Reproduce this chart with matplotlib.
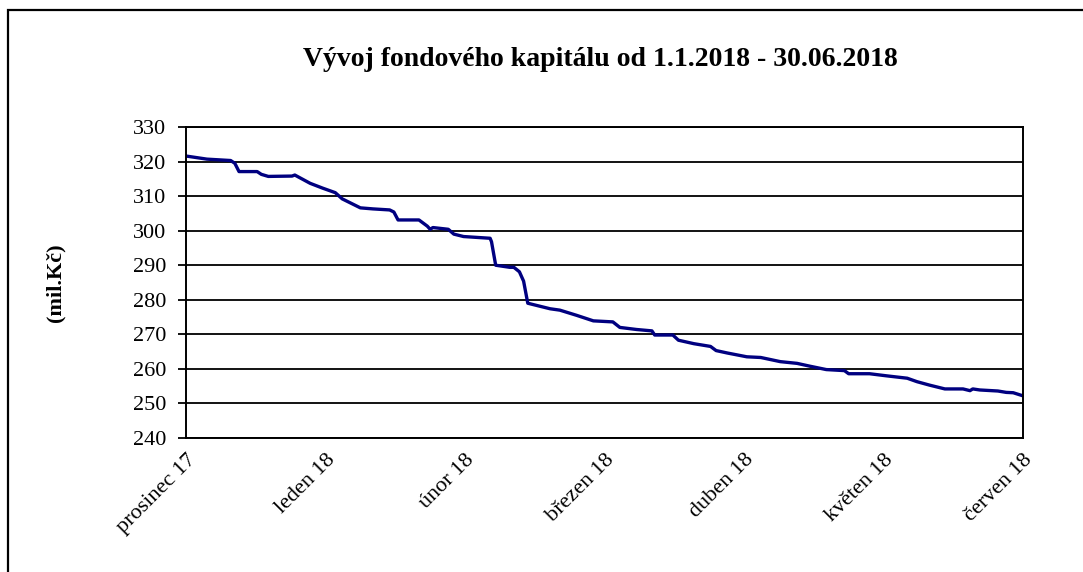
import matplotlib
matplotlib.use("Agg")
import matplotlib.pyplot as plt
from matplotlib.patches import Rectangle

plt.rcParams['font.family'] = ['Liberation Serif', 'DejaVu Serif']

# --- Data (x = position in months from "prosinec 17") ---
month_labels = ["prosinec 17", "leden 18", "únor 18", "březen 18",
                "duben 18", "květen 18", "červen 18"]

x_pos = [0.00, 0.15, 0.32, 0.35, 0.38, 0.51, 0.54, 0.59, 0.76, 0.78,
         0.89, 0.98, 1.07, 1.12, 1.19, 1.25, 1.34, 1.46, 1.49, 1.52,
         1.67, 1.73, 1.75, 1.77, 1.88, 1.92, 1.99, 2.18, 2.19, 2.22,
         2.32, 2.35, 2.39, 2.42, 2.45, 2.54, 2.61, 2.68, 2.80, 2.92,
         3.06, 3.11, 3.23, 3.34, 3.36, 3.49, 3.53, 3.64, 3.76, 3.80,
         3.88, 4.02, 4.12, 4.26, 4.38, 4.47, 4.59, 4.72, 4.75, 4.90,
         5.02, 5.17, 5.24, 5.33, 5.44, 5.57, 5.62, 5.64, 5.69, 5.82,
         5.88, 5.93, 6.00]

capital = [321.6, 320.7, 320.3, 319.5, 317.1, 317.1, 316.3, 315.7, 315.8, 316.1,
           313.7, 312.3, 311.0, 309.2, 307.8, 306.6, 306.3, 306.0, 305.4, 303.1,
           303.1, 301.3, 300.4, 300.9, 300.4, 299.0, 298.3, 297.8, 296.8, 290.0,
           289.4, 289.4, 288.1, 285.4, 279.0, 278.1, 277.4, 277.0, 275.5, 273.9,
           273.6, 272.0, 271.4, 271.0, 269.8, 269.8, 268.3, 267.3, 266.5, 265.3,
           264.6, 263.5, 263.3, 262.1, 261.6, 260.8, 259.8, 259.5, 258.6, 258.6,
           258.0, 257.3, 256.3, 255.3, 254.2, 254.2, 253.7, 254.2, 253.9, 253.6,
           253.2, 253.1, 252.2]

y_ticks = [240, 250, 260, 270, 280, 290, 300, 310, 320, 330]

W, H = 1083, 572
fig = plt.figure(figsize=(W / 100, H / 100), dpi=100)
fig.patch.set_facecolor('white')

# ramecek kolem grafu (oriznuty vpravo a dole)
fig.patches.append(Rectangle((8 / W, -0.1), 1.2, 1 - 10 / H + 0.1,
                             transform=fig.transFigure, fill=False,
                             edgecolor='black', linewidth=1.6))

ax = fig.add_axes([186 / W, 1 - 438 / H, (1023 - 186) / W, (438 - 127) / H])

ax.plot(x_pos, capital, color='#000080', linewidth=2.4, solid_joinstyle='round')

ax.set_xlim(0, 6)
ax.set_ylim(240, 330)
ax.set_yticks(y_ticks)
ax.set_xticks(range(len(month_labels)))
ax.set_xticklabels(month_labels, rotation=45, ha='right',
                   rotation_mode='anchor', fontsize=16)
ax.tick_params(axis='x', length=0, pad=9)
ax.tick_params(axis='y', direction='out', length=6, width=1.3, pad=8,
               labelsize=16)

ax.yaxis.grid(True, color='black', linewidth=1.3)
ax.set_axisbelow(True)
for s in ax.spines.values():
    s.set_linewidth(1.4)
    s.set_color('black')

ax.set_ylabel("(mil.Kč)", fontsize=16, fontweight='bold')
ax.yaxis.set_label_coords(-(186 - 65) / (1023 - 186), 0.5)

fig.text(600 / W, 1 - 60 / H, "Vývoj fondového kapitálu od 1.1.2018 - 30.06.2018",
         ha='center', va='center', fontsize=20, fontweight='bold')

fig.savefig("out.png", dpi=100)
